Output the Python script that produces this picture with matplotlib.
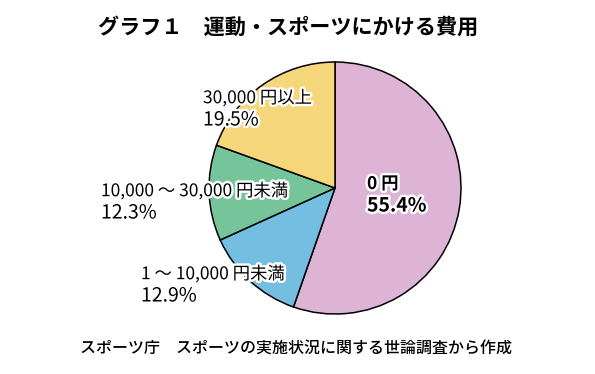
import matplotlib.pyplot as plt
import matplotlib.patheffects as pe

plt.rcParams['font.family'] = ['Noto Sans CJK JP', 'DejaVu Sans']

# data (clockwise from the top)
categories = ["0 円", "1 ～ 10,000 円未満", "10,000 ～ 30,000 円未満", "30,000 円以上"]
shares = [55.4, 12.9, 12.3, 19.5]
colors = ["#DDB4D6", "#74BEE2", "#76C49A", "#F6D67A"]

W, H = 595, 374

fig = plt.figure(figsize=(W / 100, H / 100), dpi=100)
ax = fig.add_axes([0, 0, 1, 1])

ax.pie(shares, colors=colors, startangle=90, counterclock=False,
       center=(335, H - 188), radius=126,
       wedgeprops=dict(edgecolor="black", linewidth=1.1))

# pie() resets the view, so fix the pixel-like coordinates afterwards
ax.set_xlim(0, W)
ax.set_ylim(0, H)
ax.set_aspect("equal")
ax.axis("off")

stroke = [pe.withStroke(linewidth=3.5, foreground="white")]

# label positions in pixels: left x, name line y, percent line y (from top)
label_pos = [(367, 184, 206), (141, 274, 296), (101, 191, 213), (203, 98, 120)]
for i, (cat, val) in enumerate(zip(categories, shares)):
    x, y1, y2 = label_pos[i]
    weight = "bold" if i == 0 else "normal"
    ax.text(x, H - y1, cat, ha="left", va="center", fontsize=12.5,
            fontweight=weight, path_effects=stroke)
    ax.text(x, H - y2, f"{val:.1f}%", ha="left", va="center", fontsize=14,
            fontweight=weight, path_effects=stroke)

ax.text(98, H - 27, "グラフ１　運動・スポーツにかける費用", ha="left", va="center",
        fontsize=15.2, fontweight="bold")
ax.text(80, H - 348, "スポーツ庁　スポーツの実施状況に関する世論調査から作成",
        ha="left", va="center", fontsize=11.5, fontweight="medium")

fig.savefig("out.png", dpi=100)
